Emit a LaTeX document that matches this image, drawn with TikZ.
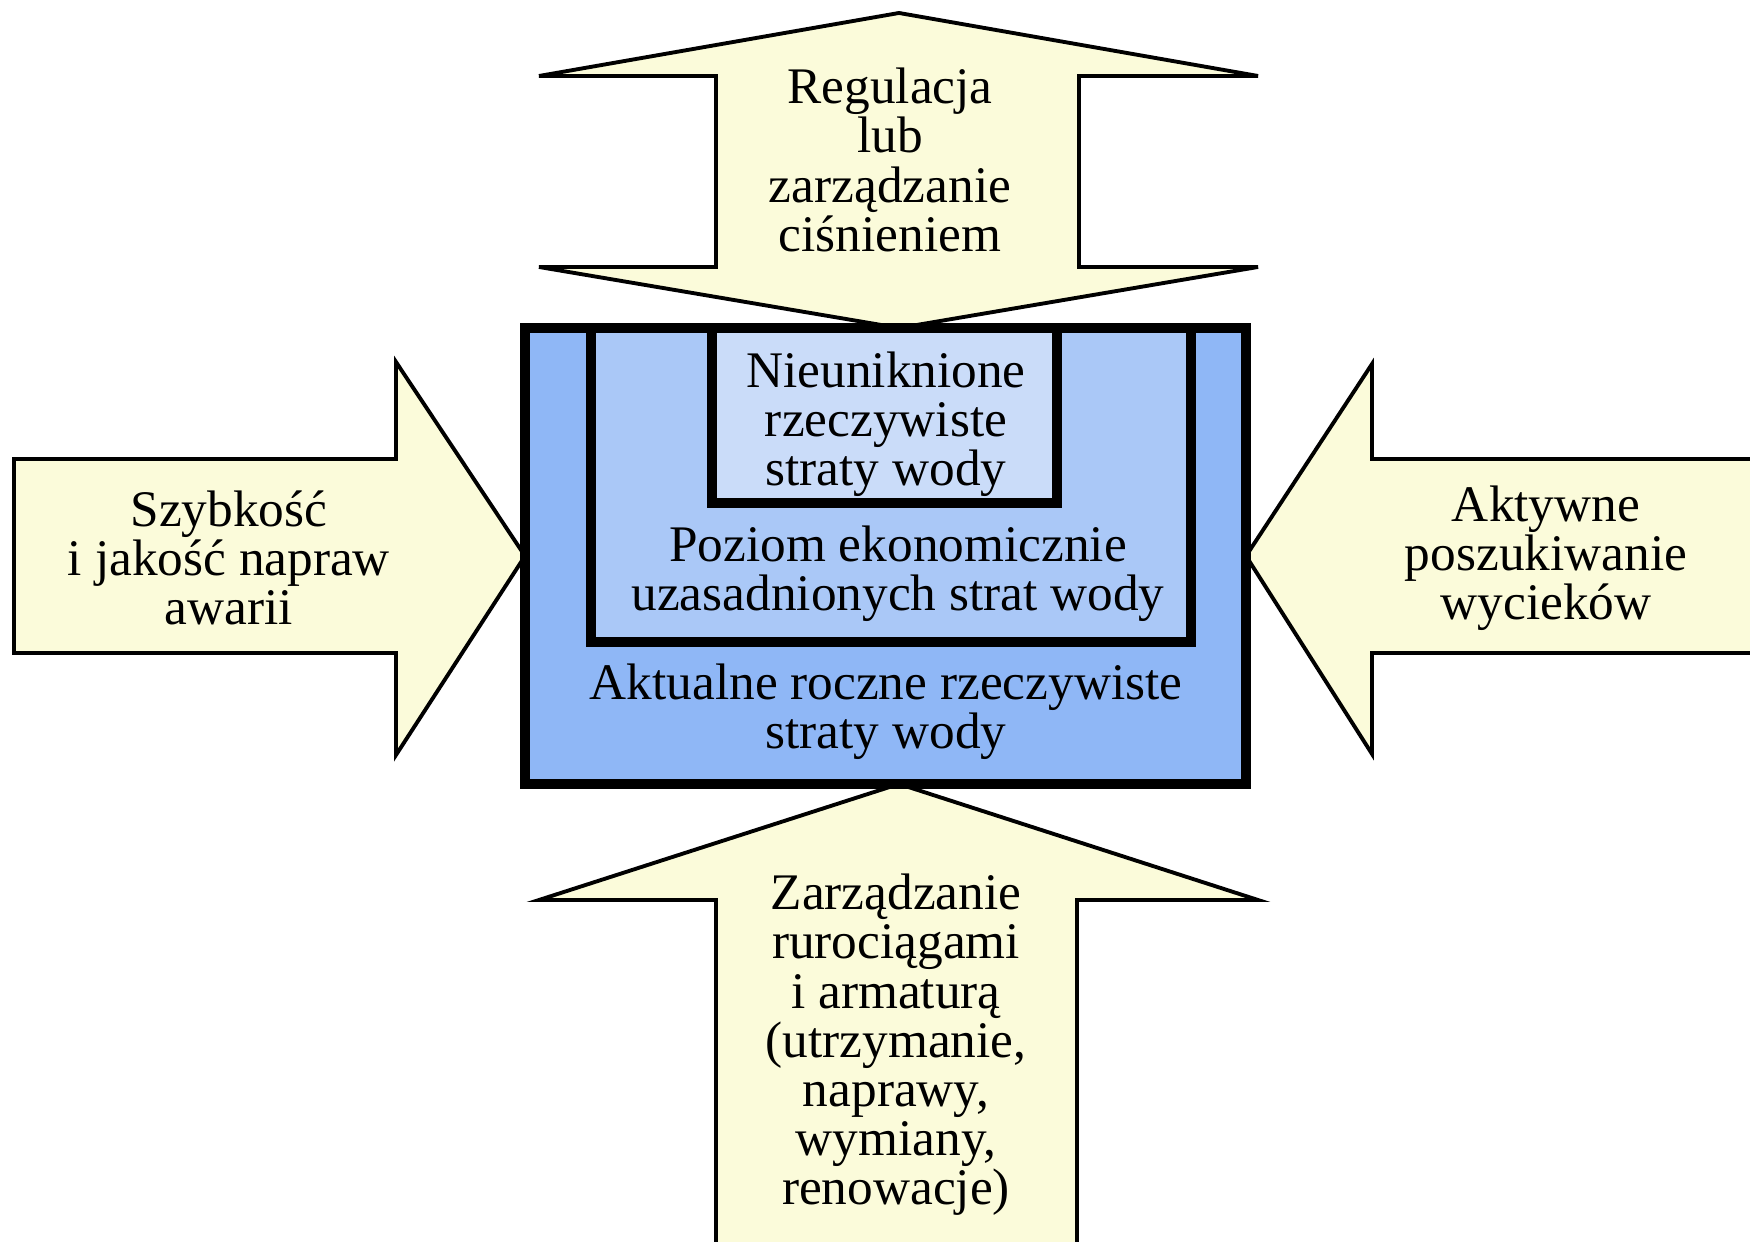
\documentclass[tikz,border=0pt]{standalone}
\usepackage{fontspec}
\setmainfont{Liberation Serif}
\usepackage{tikz}

\definecolor{arrowfill}{HTML}{FBFBDA}
\definecolor{outerblue}{HTML}{8FB7F6}
\definecolor{midblue}{HTML}{AAC8F7}
\definecolor{innerblue}{HTML}{CADCF9}

\tikzset{
  bigarrow/.style={draw, fill=arrowfill, line width=1.1pt, line join=miter},
  lossbox/.style={draw, line width=2.6pt, line join=miter},
  lbl/.style={align=center, inner sep=0pt, font=\fontsize{14.6}{14}\selectfont}
}

\begin{document}
\begin{tikzpicture}[x=1cm,y=1cm]
\useasboundingbox (0,0) rectangle (17.5,12.42);
\clip (0,0) rectangle (17.5,12.42);

% arrows
\draw[bigarrow] (8.99,12.29) -- (12.58,11.66) -- (10.79,11.66) -- (10.79,9.75) -- (12.58,9.75)
  -- (8.99,9.14) -- (5.39,9.75) -- (7.16,9.75) -- (7.16,11.66) -- (5.39,11.66) -- cycle;
\draw[bigarrow] (0.14,7.83) -- (3.96,7.83) -- (3.96,8.80) -- (5.25,6.86) -- (3.96,4.87)
  -- (3.96,5.89) -- (0.14,5.89) -- cycle;
\draw[bigarrow] (17.8,7.83) -- (13.72,7.83) -- (13.72,8.78) -- (12.46,6.86) -- (13.72,4.88)
  -- (13.72,5.89) -- (17.8,5.89) -- cycle;
\draw[bigarrow] (8.99,4.58) -- (12.58,3.42) -- (10.77,3.42) -- (10.77,-0.2) -- (7.16,-0.2)
  -- (7.16,3.42) -- (5.39,3.42) -- cycle;

% nested boxes
\fill[outerblue] (5.25,4.58) rectangle (12.46,9.14);
\draw[lossbox, fill=midblue] (5.91,9.14) -- (5.91,6.00) -- (11.91,6.00) -- (11.91,9.14);
\draw[lossbox, fill=innerblue] (7.12,9.14) -- (7.12,7.39) -- (10.57,7.39) -- (10.57,9.14);
\draw[lossbox] (5.25,4.58) rectangle (12.46,9.14);

% labels
\node[lbl] (regulacja) at (8.90,10.82) {Regulacja\\lub\\zarządzanie\\ciśnieniem};
\node[lbl] (nieunikn) at (8.86,8.18) {Nieuniknione\\rzeczywiste\\straty wody};
\node[lbl] (poziom) at (8.98,6.68) {Poziom ekonomicznie\\uzasadnionych strat wody};
\node[lbl] (aktualne) at (8.86,5.30) {Aktualne roczne rzeczywiste\\straty wody};
\node[lbl] (szybkosc) at (2.29,6.84) {Szybkość\\i jakość napraw\\awarii};
\node[lbl] (aktywne) at (15.46,6.84) {Aktywne\\poszukiwanie\\wycieków};
\node[lbl] (rurociagi) at (8.96,1.97) {Zarządzanie\\rurociągami\\i armaturą\\(utrzymanie,\\naprawy,\\wymiany,\\renowacje)};
\end{tikzpicture}
\end{document}
